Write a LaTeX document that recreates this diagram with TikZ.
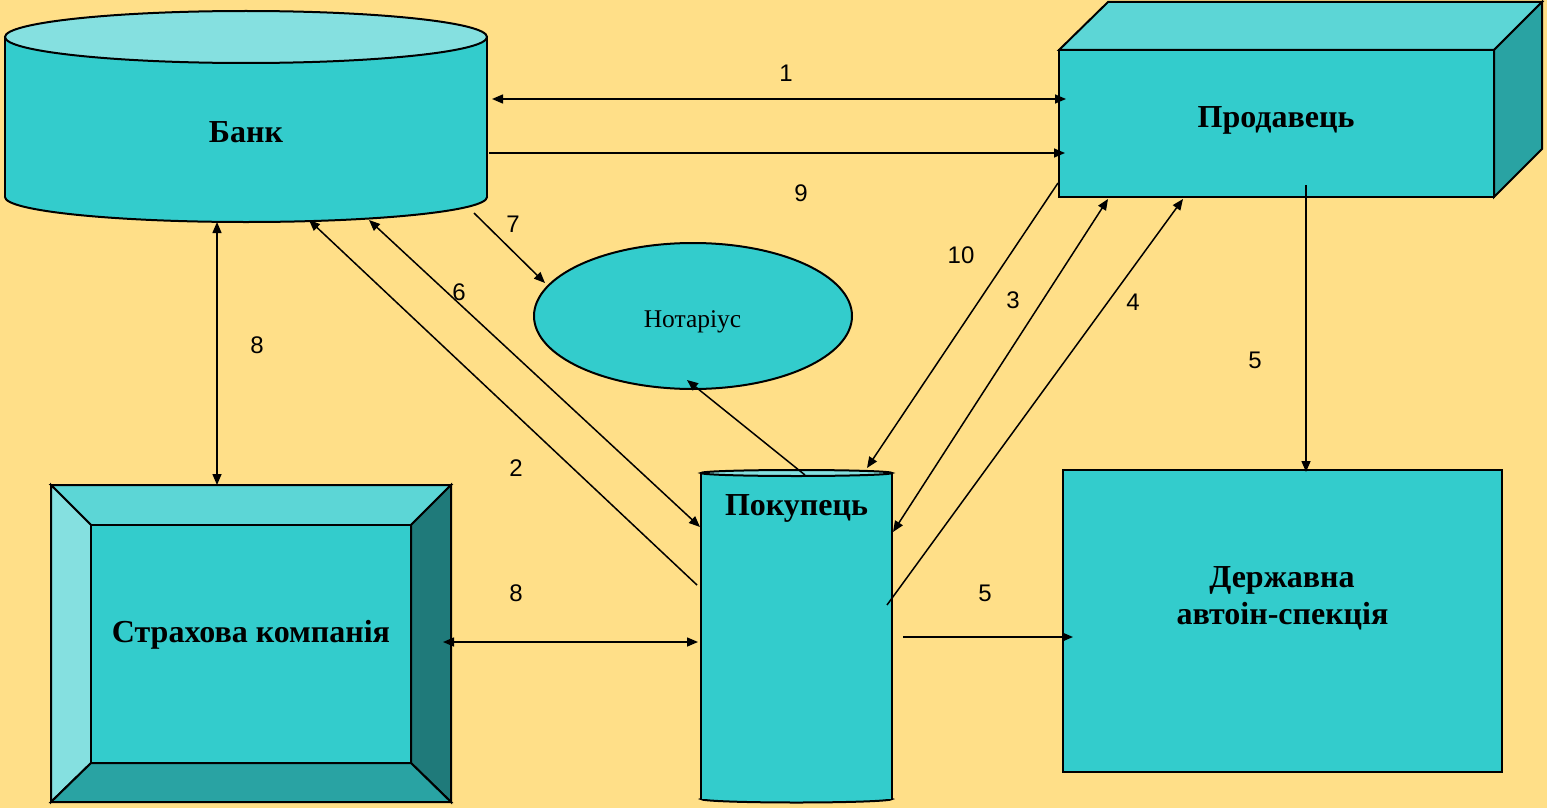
\documentclass[tikz,border=0pt]{standalone}
\usepackage{fontspec}
\setmainfont{Liberation Serif}
\newfontfamily\numfont{Liberation Sans}
\usetikzlibrary{arrows.meta,shapes.geometric}

\definecolor{bg}{HTML}{FFDF88}
\definecolor{tealmain}{HTML}{33CCCC}
\definecolor{teallight}{HTML}{85E0E0}
\definecolor{tealtop}{HTML}{5CD6D6}
\definecolor{tealmid}{HTML}{29A3A3}
\definecolor{tealdark}{HTML}{1F7A7A}

\tikzset{
  outline/.style={draw=black, line width=2pt, line join=miter},
  link/.style={line width=1.5pt, -{Triangle[length=11pt,width=9pt]}},
  twoway/.style={line width=1.5pt, {Triangle[length=11pt,width=9pt]}-{Triangle[length=11pt,width=9pt]}},
  title/.style={font=\bfseries\fontsize{32}{37}\selectfont, inner sep=0pt, anchor=base},
  num/.style={font=\numfont\fontsize{24}{27}\selectfont, inner sep=0pt},
}

\begin{document}
\begin{tikzpicture}[x=1pt,y=-1pt]
\fill[bg] (0,0) rectangle (1547,808);
\useasboundingbox (0,0) rectangle (1547,808);

% ---- Bank (cylinder) ----
\filldraw[fill=tealmain, outline] (246,197) ellipse [x radius=241pt, y radius=25pt];
\fill[tealmain] (5,37) rectangle (487,197);
\draw[outline] (5,37) -- (5,197) (487,37) -- (487,197);
\filldraw[fill=teallight, outline] (246,37) ellipse [x radius=241pt, y radius=26pt];
\node[title] (bank) at (246,142) {Банк};

% ---- Seller (box) ----
\filldraw[fill=tealtop, outline] (1059,50) -- (1108,2) -- (1542,2) -- (1494,50) -- cycle;
\filldraw[fill=tealmid, outline] (1494,50) -- (1542,2) -- (1542,149) -- (1494,197) -- cycle;
\filldraw[fill=tealmain, outline] (1059,50) rectangle (1494,197);
\node[title] (seller) at (1276,127) {Продавець};

% ---- Insurance company (bevelled frame) ----
\filldraw[fill=tealtop, outline] (51,485) -- (451,485) -- (411,525) -- (91,525) -- cycle;
\filldraw[fill=teallight, outline] (51,485) -- (91,525) -- (91,763) -- (51,802) -- cycle;
\filldraw[fill=tealdark, outline] (451,485) -- (451,802) -- (411,763) -- (411,525) -- cycle;
\filldraw[fill=tealmid, outline] (51,802) -- (91,763) -- (411,763) -- (451,802) -- cycle;
\filldraw[fill=tealmain, outline] (91,525) rectangle (411,763);
\node[title] (insurer) at (251,642) {Страхова компанія};

% ---- Notary (ellipse) ----
\node[ellipse, draw=black, line width=2pt, fill=tealmain, minimum width=318pt,
      minimum height=146pt, inner sep=0pt] (notary) at (693,316) {};
\node[font=\fontsize{25.5}{30}\selectfont, inner sep=0pt, anchor=base] (notarytext) at (692.5,327) {Нотаріус};

% ---- Buyer (tall cylinder) ----
\filldraw[fill=tealmain, outline] (796.5,799) ellipse [x radius=95.5pt, y radius=3.5pt];
\fill[tealmain] (701,473) rectangle (892,799);
\draw[outline] (701,473) -- (701,799) (892,473) -- (892,799);
\filldraw[fill=teallight, outline] (796.5,473) ellipse [x radius=95.5pt, y radius=3pt];
\node[title] (buyer) at (796.5,515) {Покупець};

% ---- State traffic inspectorate ----
\filldraw[fill=tealmain, outline] (1063,470) rectangle (1502,772);
\node[title] (insp1) at (1282,587) {Державна};
\node[title] (insp2) at (1282.5,624) {автоін-спекція};

% ---- connection points ----
\coordinate (bankA) at (492,99);   \coordinate (sellerA) at (1066,99);
\coordinate (bankB) at (489,153);  \coordinate (sellerB) at (1065,153);
\coordinate (bankC) at (474,213);  \coordinate (notaryA) at (545,283);
\coordinate (bankD) at (217,222);  \coordinate (insurerA) at (217,485);
\coordinate (insurerB) at (443,642); \coordinate (buyerA) at (698,642);
\coordinate (bankE) at (369,220);  \coordinate (buyerB) at (700,527);
\coordinate (bankF) at (309,220);  \coordinate (buyerC) at (697,585);
\coordinate (buyerD) at (805,475); \coordinate (notaryB) at (687,380);
\coordinate (sellerC) at (1058,183); \coordinate (buyerE) at (867,468);
\coordinate (sellerD) at (1108,199); \coordinate (buyerF) at (893,532);
\coordinate (buyerG) at (887,605); \coordinate (sellerE) at (1183,199);
\coordinate (sellerF) at (1306,185); \coordinate (inspA) at (1306,472);
\coordinate (buyerH) at (903,637); \coordinate (inspB) at (1073,637);

% ---- connectors ----
\draw[twoway] (bankA) -- (sellerA);
\draw[link] (bankB) -- (sellerB);
\draw[link] (bankC) -- (notaryA);
\draw[twoway] (bankD) -- (insurerA);
\draw[twoway] (insurerB) -- (buyerA);
\draw[twoway] (bankE) -- (buyerB);
\draw[link] (buyerC) -- (bankF);
\draw[link] (buyerD) -- (notaryB);
\draw[link] (sellerC) -- (buyerE);
\draw[twoway] (sellerD) -- (buyerF);
\draw[link] (buyerG) -- (sellerE);
\draw[link] (sellerF) -- (inspA);
\draw[link] (buyerH) -- (inspB);

% ---- step numbers ----
\node[num] (n1) at (786,73) {1};
\node[num] (n9) at (801,193) {9};
\node[num] (n7) at (513,224) {7};
\node[num] (n6) at (459,292) {6};
\node[num] (n8a) at (257,345) {8};
\node[num] (n10) at (961,255) {10};
\node[num] (n3) at (1013,300) {3};
\node[num] (n4) at (1133,302) {4};
\node[num] (n5a) at (1255,360) {5};
\node[num] (n2) at (516,468) {2};
\node[num] (n8b) at (516,593) {8};
\node[num] (n5b) at (985,593) {5};
\end{tikzpicture}
\end{document}
